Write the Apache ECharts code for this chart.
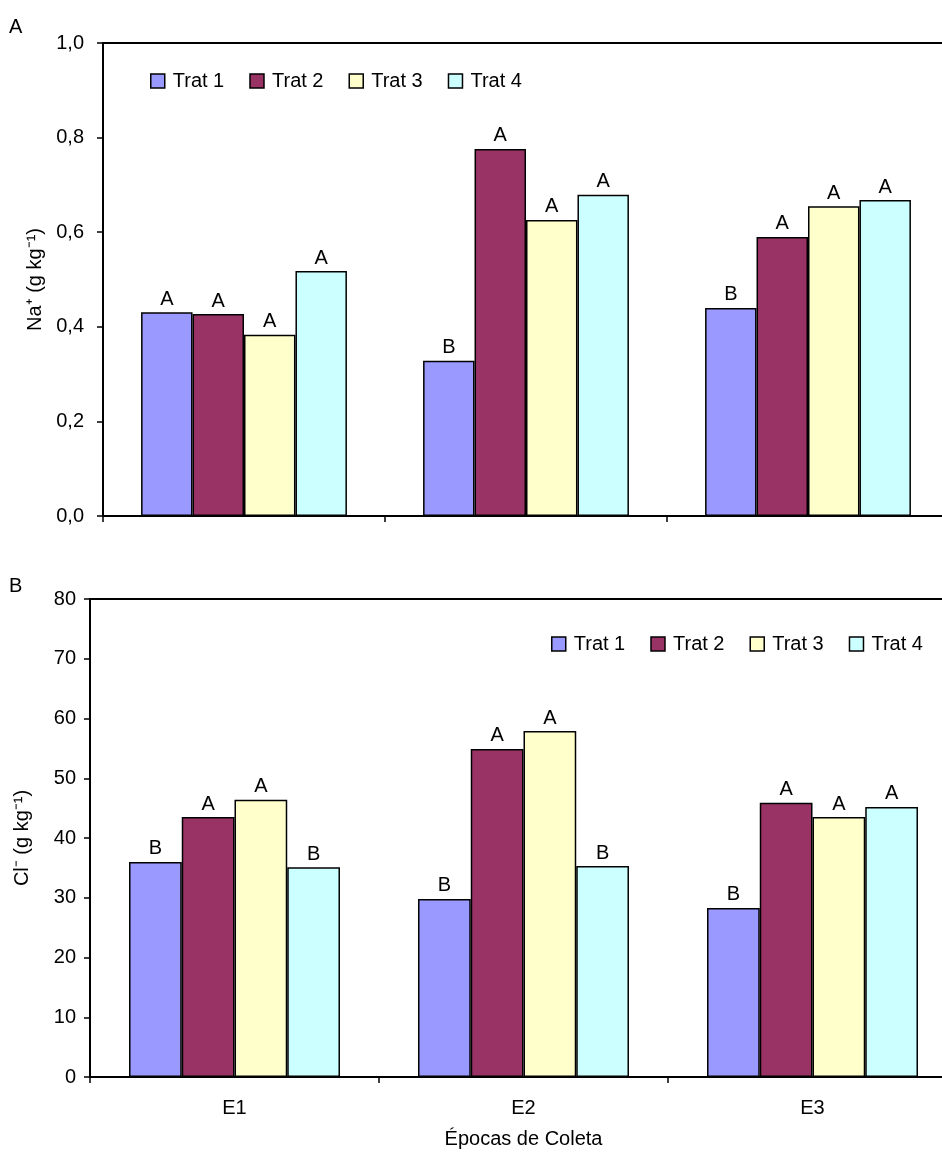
<!DOCTYPE html>
<html>
<head>
<meta charset="utf-8">
<script src="https://cdn.jsdelivr.net/npm/echarts@6/dist/echarts.min.js"></script>
<style>
  html, body { margin: 0; padding: 0; background: #ffffff; }
  #chart { width: 942px; height: 1159px; }
</style>
</head>
<body>
<div id="chart"></div>
<script>
// Sampling periods and treatments
const periods = ['E1', 'E2', 'E3'];
const treatments = ['Trat 1', 'Trat 2', 'Trat 3', 'Trat 4'];
const treatmentColors = ['#9999FF', '#993366', '#FFFFCC', '#CCFFFF'];

// Na+ content (g kg-1), one array per treatment, ordered E1..E3
const naTrat1 = [0.431, 0.328, 0.440];
const naTrat2 = [0.427, 0.776, 0.590];
const naTrat3 = [0.383, 0.626, 0.655];
const naTrat4 = [0.518, 0.679, 0.668];
// Tukey letters for Na+
const naLetters1 = ['A', 'B', 'B'];
const naLetters2 = ['A', 'A', 'A'];
const naLetters3 = ['A', 'A', 'A'];
const naLetters4 = ['A', 'A', 'A'];

// Cl- content (g kg-1)
const clTrat1 = [36.0, 29.8, 28.3];
const clTrat2 = [43.5, 54.9, 45.9];
const clTrat3 = [46.4, 57.9, 43.5];
const clTrat4 = [35.1, 35.3, 45.2];
// Tukey letters for Cl-
const clLetters1 = ['B', 'B', 'B'];
const clLetters2 = ['A', 'A', 'A'];
const clLetters3 = ['A', 'A', 'A'];
const clLetters4 = ['B', 'B', 'A'];

// Y-axis tick settings
const naTicks = { min: 0, max: 1.0, interval: 0.2 };
const clTicks = { min: 0, max: 80, interval: 10 };

const FONT = '"Liberation Sans", Arial, sans-serif';
const FS = 20;
const naValues = [naTrat1, naTrat2, naTrat3, naTrat4];
const naLetters = [naLetters1, naLetters2, naLetters3, naLetters4];
const clValues = [clTrat1, clTrat2, clTrat3, clTrat4];
const clLetters = [clLetters1, clLetters2, clLetters3, clLetters4];

function barSeries(values, letters, axisIndex) {
  return values.map((vals, i) => ({
    name: treatments[i],
    type: 'bar',
    xAxisIndex: axisIndex,
    yAxisIndex: axisIndex,
    data: vals,
    barGap: '0%',
    barCategoryGap: '27%',
    itemStyle: { color: treatmentColors[i], borderColor: '#000', borderWidth: 1.5 },
    label: {
      show: true,
      position: 'top',
      distance: 3,
      color: '#000',
      fontFamily: FONT,
      fontSize: FS,
      formatter: p => letters[i][p.dataIndex]
    },
    emphasis: { disabled: true },
    animation: false
  }));
}

const axisLine = { show: true, lineStyle: { color: '#000', width: 2 } };
const axisTick = { show: true, inside: false, length: 6, lineStyle: { color: '#000', width: 1.5 } };
const tickLabel = { color: '#000', fontFamily: FONT, fontSize: FS };
const nameStyle = { color: '#000', fontFamily: FONT, fontSize: FS };

function legendAt(left, top) {
  return {
    data: treatments,
    left, top,
    orient: 'horizontal',
    itemWidth: 14, itemHeight: 14, itemGap: 25,
    icon: 'rect',
    textStyle: { color: '#000', fontFamily: FONT, fontSize: FS, padding: [0, 0, 0, 3] },
    itemStyle: { borderColor: '#000', borderWidth: 1.5 },
    selectedMode: false
  };
}

const option = {
  backgroundColor: '#ffffff',
  animation: false,
  textStyle: { fontFamily: FONT },
  title: [
    { text: 'A', left: 4, top: 12, textStyle: { fontFamily: FONT, fontSize: FS, fontWeight: 'normal', color: '#000' } },
    { text: 'B', left: 4, top: 571, textStyle: { fontFamily: FONT, fontSize: FS, fontWeight: 'normal', color: '#000' } }
  ],
  legend: [legendAt(145, 66), legendAt(546, 629)],
  grid: [
    { left: 103, top: 43, width: 846, height: 473, show: true, borderColor: '#000', borderWidth: 2, backgroundColor: 'transparent', outerBoundsMode: 'none' },
    { left: 90, top: 599, width: 867, height: 478, show: true, borderColor: '#000', borderWidth: 2, backgroundColor: 'transparent', outerBoundsMode: 'none' }
  ],
  xAxis: [
    {
      type: 'category', gridIndex: 0, data: periods,
      axisLine, axisTick, axisLabel: { show: false }, splitLine: { show: false }
    },
    {
      type: 'category', gridIndex: 1, data: periods,
      axisLine, axisTick,
      axisLabel: Object.assign({ margin: 21 }, tickLabel),
      splitLine: { show: false },
      name: 'Épocas de Coleta', nameLocation: 'middle', nameGap: 52,
      nameTextStyle: nameStyle
    }
  ],
  yAxis: [
    {
      type: 'value', gridIndex: 0,
      min: naTicks.min, max: naTicks.max, interval: naTicks.interval,
      axisLine, axisTick,
      axisLabel: Object.assign({ margin: 19, formatter: v => v.toFixed(1).replace('.', ',') }, tickLabel),
      splitLine: { show: false },
      name: 'Na⁺ (g kg⁻¹)', nameLocation: 'middle', nameGap: 58,
      nameTextStyle: nameStyle
    },
    {
      type: 'value', gridIndex: 1,
      min: clTicks.min, max: clTicks.max, interval: clTicks.interval,
      axisLine, axisTick,
      axisLabel: Object.assign({ margin: 14 }, tickLabel),
      splitLine: { show: false },
      name: 'Cl⁻ (g kg⁻¹)', nameLocation: 'middle', nameGap: 58,
      nameTextStyle: nameStyle
    }
  ],
  series: [...barSeries(naValues, naLetters, 0), ...barSeries(clValues, clLetters, 1)]
};

const chart = echarts.init(document.getElementById('chart'), null, { renderer: 'canvas' });
chart.setOption(option);
</script>
</body>
</html>
